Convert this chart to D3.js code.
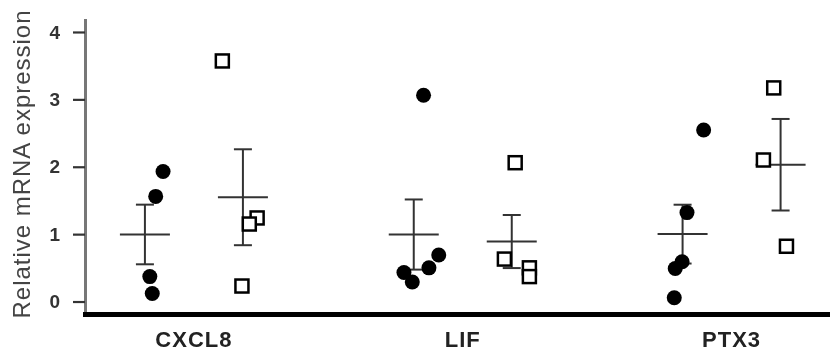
<!DOCTYPE html>
<html>
<head>
<meta charset="utf-8">
<script src="https://cdn.jsdelivr.net/npm/d3@7"></script>
<style>
  html, body { margin: 0; padding: 0; background: #fff; }
  svg { display: block; filter: blur(0.6px); }
  text { font-family: "Liberation Sans", Arial, sans-serif; }
</style>
</head>
<body>
<svg id="chart" width="830" height="355"></svg>
<script>
// ---- data ----
const genes = ["CXCL8", "LIF", "PTX3"];
const groups = ["control", "treated"];
const yTicks = [0, 1, 2, 3, 4];
// relative expression values per gene, control (filled circles)
const controlValues = {
  CXCL8: [1.93, 1.56, 0.37, 0.12],
  LIF:   [3.06, 0.69, 0.50, 0.43, 0.29],
  PTX3:  [2.545, 1.32, 0.59, 0.49, 0.056]
};
// treated (open squares)
const treatedValues = {
  CXCL8: [3.57, 1.24, 1.15, 0.23],
  LIF:   [2.06, 0.63, 0.50, 0.37],
  PTX3:  [3.17, 2.10, 0.82]
};
// horizontal scatter of each point, as a fraction of the group half-width
const controlJitter = {
  CXCL8: [0.37, 0.22, 0.10, 0.15],
  LIF:   [0.20, 0.51, 0.31, -0.20, -0.03],
  PTX3:  [0.43, 0.09, -0.01, -0.15, -0.17]
};
const treatedJitter = {
  CXCL8: [-0.42, 0.29, 0.13, -0.02],
  LIF:   [0.07, -0.15, 0.36, 0.36],
  PTX3:  [-0.14, -0.35, 0.12]
};

// ---- scales ----
const svg = d3.select("#chart");
const x = d3.scaleBand().domain(genes).range([59.5, 866]).padding(0);
const inner = d3.scalePoint().domain(groups).range([-49, 49]);
const halfW = 49;
const y = d3.scaleLinear().domain([-0.2, 4.2]).range([315, 18.5]);

const axisX = 85;

// y axis
const yAxis = d3.axisLeft(y).tickValues(yTicks).tickFormat(d3.format("d"))
  .tickSize(12).tickSizeOuter(0).tickPadding(13);
const gy = svg.append("g").attr("transform", `translate(${axisX},0)`).call(yAxis);
gy.select(".domain").attr("stroke", "#777").attr("stroke-width", 3);
gy.selectAll(".tick line").attr("stroke", "#333").attr("stroke-width", 2.2);
gy.selectAll(".tick text").attr("fill", "#333").style("font-size", "19px").style("font-weight", "bold");

// x axis baseline + labels
const xAxis = d3.axisBottom(x).tickSize(0).tickPadding(17);
const gx = svg.append("g").attr("transform", `translate(0,${y(-0.2) - 0.5})`).call(xAxis);
gx.select(".domain").remove();
gx.selectAll(".tick text").attr("fill", "#222").style("font-size", "22px")
  .style("font-weight", "bold").style("letter-spacing", "1px");
svg.append("line")
  .attr("x1", axisX - 2).attr("x2", 830)
  .attr("y1", y(-0.2) - 0.5).attr("y2", y(-0.2) - 0.5)
  .attr("stroke", "#000").attr("stroke-width", 5);

// y label
svg.append("text")
  .attr("transform", `translate(22,${(y(-0.2) + 14) / 2}) rotate(-90)`)
  .attr("text-anchor", "middle").attr("dy", "0.35em")
  .attr("fill", "#444").style("font-size", "24px")
  .attr("textLength", 308).attr("lengthAdjust", "spacing")
  .text("Relative mRNA expression");

// ---- marks ----
function drawGroup(gene, group, values, jitter) {
  const cx = x(gene) + x.bandwidth() / 2 + inner(group);
  const m = d3.mean(values);
  const sem = d3.deviation(values) / Math.sqrt(values.length);
  const g = svg.append("g");
  const lc = "#333";
  // error bar
  g.append("line").attr("x1", cx).attr("x2", cx).attr("y1", y(m + sem)).attr("y2", y(m - sem))
    .attr("stroke", lc).attr("stroke-width", 2);
  [m + sem, m - sem].forEach(v => {
    g.append("line").attr("x1", cx - 9).attr("x2", cx + 9).attr("y1", y(v)).attr("y2", y(v))
      .attr("stroke", lc).attr("stroke-width", 2);
  });
  g.append("line").attr("x1", cx - 25).attr("x2", cx + 25).attr("y1", y(m)).attr("y2", y(m))
    .attr("stroke", lc).attr("stroke-width", 2);
  // points
  values.forEach((v, i) => {
    const px = cx + jitter[i] * halfW;
    if (group === "control") {
      g.append("circle").attr("cx", px).attr("cy", y(v)).attr("r", 7.5).attr("fill", "#000");
    } else {
      g.append("rect").attr("x", px - 6.5).attr("y", y(v) - 6.5).attr("width", 13).attr("height", 13)
        .attr("fill", "#fff").attr("stroke", "#000").attr("stroke-width", 2.5);
    }
  });
}
genes.forEach(gene => {
  drawGroup(gene, "control", controlValues[gene], controlJitter[gene]);
  drawGroup(gene, "treated", treatedValues[gene], treatedJitter[gene]);
});
</script>
</body>
</html>
